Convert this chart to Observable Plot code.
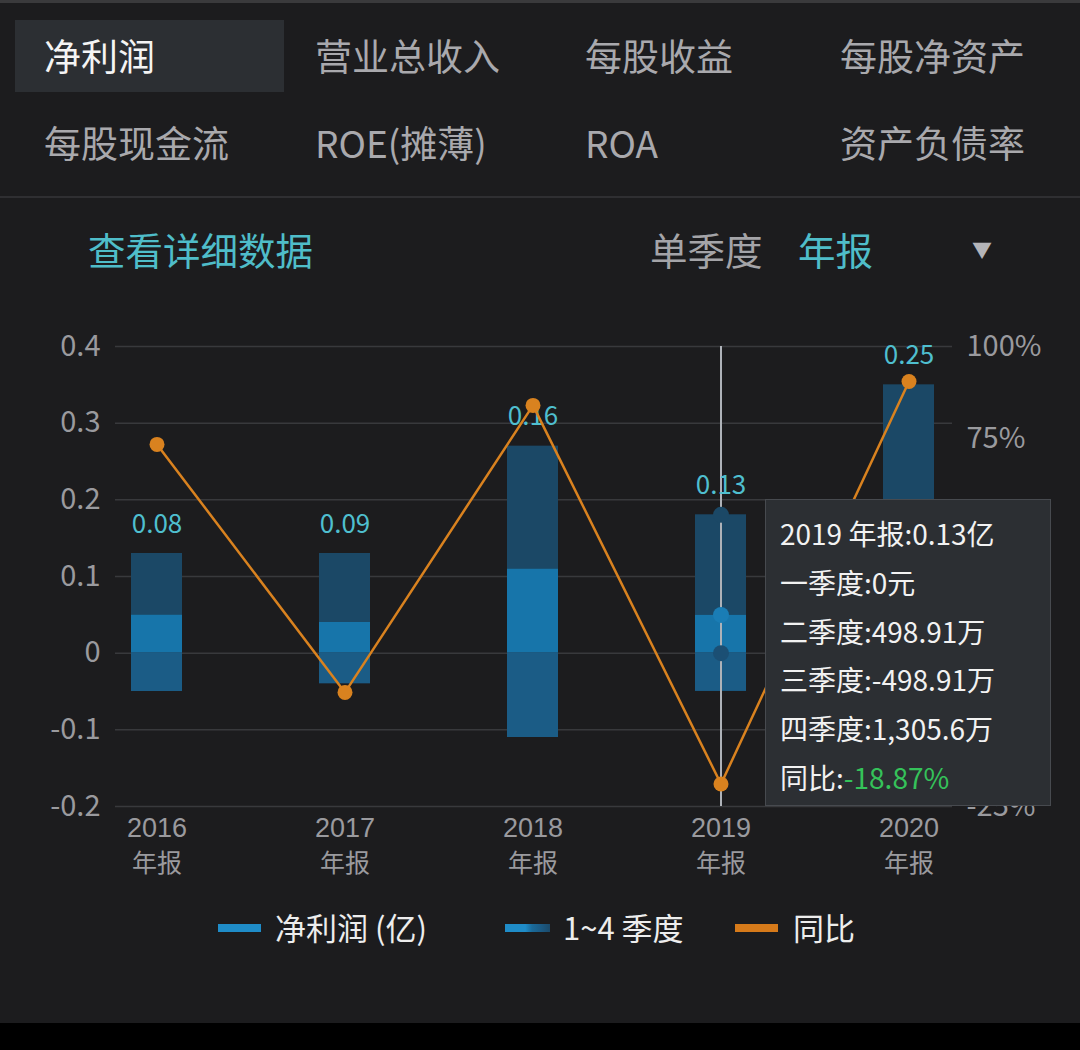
<!DOCTYPE html>
<html>
<head>
<meta charset="utf-8">
<script src="https://cdn.jsdelivr.net/npm/d3@7"></script>
<script src="https://cdn.jsdelivr.net/npm/@observablehq/plot@0.6"></script>
<style>
  html, body { margin: 0; padding: 0; }
  body {
    width: 1080px; height: 1050px; position: relative; overflow: hidden;
    background: #1c1c1e;
    font-family: "Noto Sans CJK SC", "Noto Sans", sans-serif;
  }
  .abs { position: absolute; white-space: nowrap; }
  .tab { font-size: 37px; color: #a9a9ad; line-height: 1; transform: translateY(-50%); }
  #topline { left: 0; top: 0; width: 1080px; height: 3px; background: #3a3a3c; }
  #tabsel { left: 15px; top: 20px; width: 269px; height: 72px; background: #2c2f33; }
  #sep { left: 0; top: 196px; width: 1080px; height: 2px; background: #2f2f32; }
  #bottom { left: 0; top: 1023px; width: 1080px; height: 27px; background: #000; }
  #chart { left: 0; top: 300px; }
  #tooltip {
    left: 765px; top: 499px; width: 286px; height: 307px;
    background: #2c2f33; border: 1.5px solid #474a4f;
    box-sizing: border-box; padding: 9px 0 0 14px;
    color: #f2f2f2; font-size: 28px; line-height: 48.8px;
  }
  .lg-sw { height: 8px; top: 924px; }
  .lg-tx { font-size: 31px; color: #ededed; line-height: 1; top: 926px; transform: translateY(-50%); }
</style>
</head>
<body>
<div id="topline" class="abs"></div>
<div id="tabsel" class="abs"></div>
<div id="tabs"></div>
<div id="sep" class="abs"></div>
<div id="controls"></div>
<div id="chart" class="abs"></div>
<div id="tooltip" class="abs"></div>
<div id="legend"></div>
<div id="bottom" class="abs"></div>
<script>
// ---------- data ----------
const tabLabels = ["净利润", "营业总收入", "每股收益", "每股净资产", "每股现金流", "ROE(摊薄)", "ROA", "资产负债率"];
const years = ["2016", "2017", "2018", "2019", "2020"];
const periodLabel = "年报";
const quarterNames = ["一季度", "二季度", "三季度", "四季度"];
const q1 = [0, 0, 0, 0, 0];
const q2 = [0.05, 0.04, 0.11, 0.0499, 0.10];
const q3 = [-0.05, -0.04, -0.11, -0.0499, -0.10];
const q4 = [0.08, 0.09, 0.16, 0.1306, 0.25];
const netProfit = [0.08, 0.09, 0.16, 0.13, 0.25];
const yoyPct = [73.4, 6.0, 84.0, -18.87, 90.5];
const leftTicks = [-0.2, -0.1, 0, 0.1, 0.2, 0.3, 0.4];
// right-axis ticks visible in the picture (50%, 25%, 0% sit under the tooltip)
const rightTicks = [-25, 75, 100];
const legendLabels = ["净利润 (亿)", "1~4 季度", "同比"];
const selectedYear = "2019";
const tooltipLabels = ["2019 年报", "一季度", "二季度", "三季度", "四季度", "同比"];
const tooltipValues = ["0.13亿", "0元", "498.91万", "-498.91万", "1,305.6万", "-18.87%"];

// ---------- header ----------
const tabX = [44, 315, 585, 840];
const tabs = document.getElementById("tabs");
tabLabels.forEach((t, i) => {
  const d = document.createElement("div");
  d.className = "abs tab";
  d.textContent = t;
  d.style.left = tabX[i % 4] + "px";
  d.style.top = (i < 4 ? 55 : 142) + "px";
  if (i === 0) d.style.color = "#f4f4f4";
  tabs.appendChild(d);
});
const controls = document.getElementById("controls");
[["查看详细数据", 88, "#4fbdc9"], ["单季度", 650, "#a4a4a8"], ["年报", 798, "#4fbdc9"], ["▼", 972, "#b4b4b8"]].forEach(([t, x, c], i) => {
  const d = document.createElement("div");
  d.className = "abs tab";
  d.textContent = t;
  d.style.left = x + "px";
  d.style.top = i === 3 ? "250px" : "249px";
  d.style.color = c;
  d.style.fontSize = i === 3 ? "20px" : "37.5px";
  controls.appendChild(d);
});

// ---------- chart ----------
const quarterColors = ["#1f8fd0", "#1775aa", "#1b5c86", "#1b4866"];
const rows = [];
years.forEach((y, i) => {
  [q1, q2, q3, q4].forEach((arr, k) => rows.push({year: y, quarter: quarterNames[k], value: arr[i]}));
});
const totals = years.map((y, i) => ({
  year: y,
  top: [q1, q2, q3, q4].reduce((s, a) => s + Math.max(0, a[i]), 0),
  label: netProfit[i].toFixed(2)
}));
// right axis (%) mapped onto the left axis domain
const toLeft = p => -0.2 + (p + 25) / 125 * 0.6;
const fromLeft = v => (v + 0.2) / 0.6 * 125 - 25;
const yoyRows = years.map((y, i) => ({year: y, v: toLeft(yoyPct[i])}));
const si = years.indexOf(selectedYear);
const selDots = [
  {year: selectedYear, y: q1[si] + q2[si] + q4[si], c: quarterColors[3]},
  {year: selectedYear, y: q1[si] + q2[si], c: "#1a7db5"},
  {year: selectedYear, y: 0, c: "#1b4f74"}
];

const orange = "#d9821f";
const chart = Plot.plot({
  width: 1080,
  height: 590,
  marginLeft: 115,
  marginRight: 128,
  marginTop: 46,
  marginBottom: 84,
  style: {background: "transparent", color: "#9a9a9e", fontFamily: "'Noto Sans CJK SC', 'Noto Sans', sans-serif"},
  x: {domain: years, type: "band", range: [60.75, 1003.25], paddingInner: 0.73, paddingOuter: 0.365, label: null, axis: null},
  y: {domain: [-0.2, 0.4], label: null},
  color: {domain: quarterNames, range: quarterColors},
  marks: [
    Plot.ruleY(leftTicks, {stroke: "#38393c", strokeWidth: 1.5}),
    Plot.axisY(leftTicks, {anchor: "left", tickSize: 0, tickPadding: 15, fontSize: 29, label: null,
      tickFormat: d => d === 0 ? "0" : d.toFixed(1)}),
    Plot.axisY(rightTicks.map(toLeft), {anchor: "right", tickSize: 0, tickPadding: 14, fontSize: 29, label: null,
      tickFormat: d => Math.round(fromLeft(d)) + "%"}),
    // x tick labels: year line and report-type line
    Plot.text(years, {x: d => d, frameAnchor: "bottom", dy: 22, lineAnchor: "middle", text: d => d,
      fontSize: 27, fontFamily: "'Liberation Sans', Arial, sans-serif", fill: "#9a9a9e"}),
    Plot.text(years, {x: d => d, frameAnchor: "bottom", dy: 57, lineAnchor: "middle", text: () => periodLabel,
      fontSize: 25, fill: "#9a9a9e"}),
    Plot.barY(rows, {x: "year", y: "value", fill: "quarter"}),
    Plot.ruleX([selectedYear], {x: d => d, y1: 0.4, y2: -0.2, stroke: "#aeb2b8", strokeWidth: 2}),
    Plot.dot(selDots, {x: "year", y: "y", r: 8, fill: "c"}),
    Plot.text(totals, {x: "year", y: "top", text: "label", dy: -29, fontSize: 26, fill: "#4fbfcf", lineAnchor: "middle"}),
    Plot.line(yoyRows, {x: "year", y: "v", stroke: orange, strokeWidth: 2.5}),
    Plot.dot(yoyRows, {x: "year", y: "v", r: 7.5, fill: orange})
  ]
});
document.getElementById("chart").appendChild(chart);

// ---------- tooltip ----------
const tip = document.getElementById("tooltip");
tooltipLabels.forEach((l, i) => {
  const d = document.createElement("div");
  const v = tooltipValues[i];
  if (i === tooltipLabels.length - 1) {
    d.innerHTML = l + ":<span style='color:#35c25a'>" + v + "</span>";
  } else {
    d.textContent = l + ":" + v;
  }
  tip.appendChild(d);
});

// ---------- legend ----------
const legend = document.getElementById("legend");
const sw = [
  [218, 43, "#1f8cc8"],
  [505, 45, "linear-gradient(90deg,#1f8cc8 0%,#1f8cc8 45%,#1a6a9a 60%,#1b5a84 80%,#1b4a6a 100%)"],
  [735, 43, "#d67a1a"]
];
const txX = [275, 563, 793];
legendLabels.forEach((t, i) => {
  const s = document.createElement("div");
  s.className = "abs lg-sw";
  s.style.left = sw[i][0] + "px";
  s.style.width = sw[i][1] + "px";
  s.style.background = sw[i][2];
  legend.appendChild(s);
  const x = document.createElement("div");
  x.className = "abs lg-tx";
  x.style.left = txX[i] + "px";
  x.textContent = t;
  legend.appendChild(x);
});
</script>
</body>
</html>
